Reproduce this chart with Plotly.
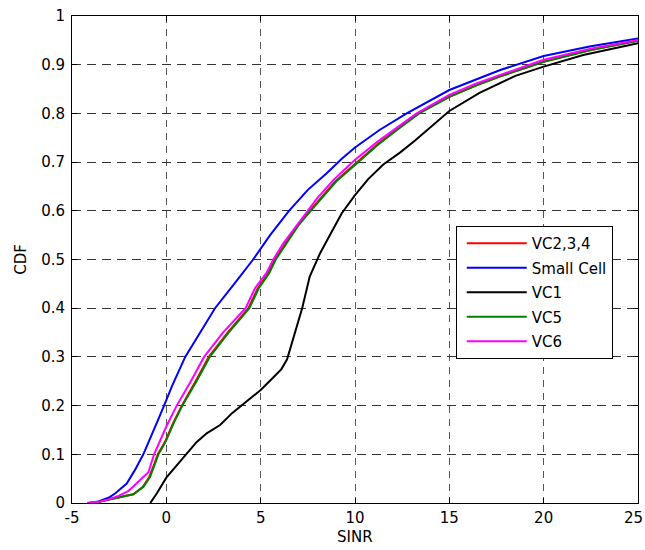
import plotly.graph_objects as go

# Empirical CDFs of SINR for each cell configuration
vc234_x = [-4.0, -3.6, -3.16, -2.5, -1.75, -1.25, -0.9, -0.63, -0.45, -0.18, -0.03, 0.37, 0.82, 1.55,
           2.25, 3.25, 4.35, 4.85, 5.4, 5.75, 6.25, 6.95, 7.6, 8.25, 8.95, 10.12, 11.15, 12.35, 13.35,
           15.0, 16.4, 17.7, 20.0, 22.5, 25.0]
vc234_y = [0, 0.002, 0.006, 0.011, 0.018, 0.033, 0.054, 0.081, 0.1, 0.118, 0.129, 0.165, 0.2, 0.25,
           0.3, 0.35, 0.4, 0.441, 0.472, 0.5, 0.53, 0.57, 0.6, 0.63, 0.66, 0.7, 0.735, 0.771, 0.8,
           0.834, 0.857, 0.876, 0.906, 0.93, 0.949]

small_x = [-4.2, -3.6, -3.0, -2.7, -2.1, -1.66, -1.22, -0.8, -0.5, -0.12, 0.3, 1.0, 1.8, 2.58, 3.6,
           4.6, 5.5, 6.5, 7.5, 8.5, 9.3, 10.0, 11.3, 12.74, 15.0, 16.4, 17.7, 20.0, 22.5, 25.0]
small_y = [0, 0.003, 0.012, 0.02, 0.04, 0.068, 0.1, 0.14, 0.165, 0.2, 0.24, 0.3, 0.35, 0.4, 0.45,
           0.5, 0.55, 0.6, 0.643, 0.677, 0.707, 0.73, 0.766, 0.8, 0.848, 0.87, 0.889, 0.918, 0.938, 0.954]

vc1_x = [-0.85, -0.5, 0.0, 0.5, 1.1, 1.6, 2.14, 2.85, 3.5, 4.3, 5.0, 5.6, 6.1, 6.4, 6.6, 6.9, 7.2,
         7.6, 8.15, 8.6, 9.3, 10.0, 10.7, 11.5, 12.4, 13.2, 14.1, 15.0, 16.6, 18.5, 20.0, 22.1, 25.0]
vc1_y = [0, 0.02, 0.052, 0.075, 0.102, 0.125, 0.143, 0.16, 0.185, 0.21, 0.232, 0.255, 0.275, 0.295,
         0.32, 0.362, 0.4, 0.465, 0.513, 0.545, 0.595, 0.632, 0.665, 0.695, 0.72, 0.745, 0.775, 0.805,
         0.842, 0.877, 0.896, 0.92, 0.944]

vc5_x = [-4.0, -3.6, -3.16, -2.5, -1.75, -1.22, -0.86, -0.6, -0.42, -0.15, 0.0, 0.4, 0.85, 1.6, 2.3,
         3.3, 4.4, 4.9, 5.45, 5.8, 6.3, 7.0, 7.65, 8.3, 9.0, 10.18, 11.2, 12.4, 13.4, 15.0, 16.4, 17.7,
         20.0, 22.5, 25.0]
vc5_y = [0, 0.002, 0.006, 0.011, 0.018, 0.033, 0.054, 0.081, 0.1, 0.118, 0.129, 0.165, 0.2, 0.25, 0.3,
         0.35, 0.4, 0.441, 0.472, 0.5, 0.53, 0.57, 0.6, 0.63, 0.66, 0.7, 0.735, 0.771, 0.8, 0.834, 0.857,
         0.876, 0.906, 0.93, 0.949]

vc6_x = [-4.2, -3.5, -3.0, -2.5, -2.0, -1.4, -0.95, -0.65, -0.3, 0.0, 0.55, 1.3, 2.0, 3.0, 4.2, 4.7,
         5.3, 5.67, 6.2, 7.1, 7.5, 8.0, 8.85, 10.0, 11.2, 12.4, 13.27, 15.0, 16.4, 17.7, 20.0, 22.5, 25.0]
vc6_y = [0, 0.003, 0.008, 0.015, 0.025, 0.047, 0.063, 0.1, 0.13, 0.157, 0.2, 0.25, 0.3, 0.35, 0.4, 0.441,
         0.472, 0.5, 0.533, 0.58, 0.6, 0.626, 0.663, 0.705, 0.742, 0.776, 0.8, 0.838, 0.861, 0.879, 0.91,
         0.933, 0.951]

x_ticks = [-5, 0, 5, 10, 15, 20, 25]
x_tick_text = ["-5", "0", "5", "10", "15", "20", "25"]
y_ticks = [0, 0.1, 0.2, 0.3, 0.4, 0.5, 0.6, 0.7, 0.8, 0.9, 1]
y_tick_text = ["0", "0.1", "0.2", "0.3", "0.4", "0.5", "0.6", "0.7", "0.8", "0.9", "1"]

series = [
    ("VC2,3,4", vc234_x, vc234_y, "#FF0000"),
    ("Small Cell", small_x, small_y, "#0000FF"),
    ("VC1", vc1_x, vc1_y, "#000000"),
    ("VC5", vc5_x, vc5_y, "#008000"),
    ("VC6", vc6_x, vc6_y, "#FF00FF"),
]

FONT = "DejaVu Sans, Liberation Sans, Arial, sans-serif"
FS = 15

fig = go.Figure()
for i, (name, xs, ys, color) in enumerate(series):
    fig.add_trace(go.Scatter(
        x=xs, y=ys, mode="lines", name=name, legendgroup=f"g{i}",
        line=dict(color=color, width=2),
    ))

axis_common = dict(
    showline=True, linecolor="black", linewidth=1, mirror="ticks",
    ticks="inside", ticklen=5, tickcolor="black",
    showgrid=True, gridwidth=1, zeroline=False, automargin=False,
    tickfont=dict(family=FONT, size=FS, color="black"),
)

# The last x label sits on the right border, so it is placed as an
# annotation nudged inward to keep it inside the page.
x_axis_text = x_tick_text[:-1] + [""]

fig.update_xaxes(
    range=[-5, 25], tickvals=x_ticks, ticktext=x_axis_text, **axis_common,
    gridcolor="#555555", griddash="7px,6px", ticklabelstandoff=1,
)
fig.update_yaxes(
    range=[0, 1], tickvals=y_ticks, ticktext=y_tick_text, **axis_common,
    gridcolor="#333333", griddash="9px,6px", ticklabelstandoff=3,
    title=dict(text="CDF", font=dict(family=FONT, size=FS, color="black"), standoff=10),
)

fig.add_annotation(
    x=x_ticks[-1], xref="x", y=0, yref="paper", text=x_tick_text[-1],
    xanchor="right", yanchor="top", xshift=7, yshift=-4, showarrow=False,
    font=dict(family=FONT, size=FS, color="black"),
)
fig.add_annotation(
    x=(x_ticks[0] + x_ticks[-1]) / 2, xref="x", y=0, yref="paper", text="SINR",
    xanchor="center", yanchor="middle", yshift=-34, showarrow=False,
    font=dict(family=FONT, size=FS, color="black"),
)

fig.update_layout(
    width=645, height=550,
    margin=dict(l=72, r=7, t=16, b=47),
    paper_bgcolor="white", plot_bgcolor="white",
    font=dict(family=FONT, size=FS, color="black"),
    legend=dict(
        x=0.678, y=0.569, xanchor="left", yanchor="top",
        bgcolor="white", bordercolor="black", borderwidth=1,
        font=dict(family=FONT, size=FS, color="black"),
        tracegroupgap=2, itemwidth=60, indentation=5,
    ),
    showlegend=True,
)

fig.write_html("out.html")
